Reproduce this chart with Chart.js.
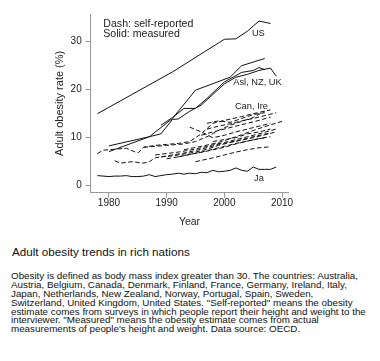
<!DOCTYPE html>
<html>
<head>
<meta charset="utf-8">
<script src="https://cdn.jsdelivr.net/npm/chart.js@4.4.1/dist/chart.umd.min.js"></script>
<style>
  html, body { margin:0; padding:0; background:#fff; }
  body { width:380px; height:361px; position:relative; overflow:hidden; font-family:"Liberation Sans", Arial, sans-serif; color:#111; }
  #wrap { position:absolute; left:0; top:0; width:380px; height:230px; }
  #title { position:absolute; left:11.5px; top:245.8px; font-size:10.7px; line-height:13px; white-space:nowrap; transform:scale(1.092,1); transform-origin:left top; }
  #desc { position:absolute; left:11.3px; top:271.9px; font-size:8.6px; line-height:8.9px; white-space:nowrap; transform:scale(1.141,1); transform-origin:left top; }
</style>
</head>
<body>
<div id="wrap"><canvas id="c" width="380" height="230"></canvas></div>
<div id="title">Adult obesity trends in rich nations</div>
<div id="desc">Obesity is defined as body mass index greater than 30. The countries: Australia,<br>Austria, Belgium, Canada, Denmark, Finland, France, Germany, Ireland, Italy,<br>Japan, Netherlands, New Zealand, Norway, Portugal, Spain, Sweden,<br>Switzerland, United Kingdom, United States. "Self-reported" means the obesity<br>estimate comes from surveys in which people report their height and weight to the<br>interviewer. "Measured" means the obesity estimate comes from actual<br>measurements of people's height and weight. Data source: OECD.</div>
<script>
// ---- tick labels ----
const xTicks = [1980, 1990, 2000, 2010];
const yTicks = [0, 10, 20, 30];

// ---- measured (solid) series ----
const usYears = [1978, 1991, 2000, 2002, 2004, 2006, 2008];
const usVals  = [15.0, 23.7, 30.5, 30.6, 32.2, 34.3, 33.8];

const msAYears = [1980, 1987, 1991, 1995, 2001, 2003, 2007];
const msAVals  = [8.3, 10.2, 14.0, 19.9, 22.6, 25.0, 26.5];

const ukYears = [1980, 1987, 1989, 1991, 1992, 1994, 1996, 1998, 2000, 2002, 2004, 2006, 2008, 2009];
const ukVals  = [7.1, 10.2, 10.8, 13.8, 13.9, 15.5, 16.8, 19.0, 21.2, 22.6, 23.2, 24.0, 24.5, 22.8];

const msCYears = [1989, 1991, 1993, 1995, 1997, 2000, 2003, 2005, 2006, 2007];
const msCVals  = [12.6, 14.2, 16.1, 16.1, 18.2, 21.6, 23.6, 24.0, 24.6, 24.2];

const jaYears = [1978,1979,1980,1981,1982,1983,1984,1985,1986,1987,1988,1989,1990,1991,1992,1993,1994,1995,1996,1997,1998,1999,2000,2001,2002,2003,2004,2005,2006,2007,2008,2009];
const jaVals  = [2.1,2.0,1.9,2.0,2.0,2.1,1.9,1.9,2.0,2.3,1.9,2.1,2.3,2.4,2.6,2.4,2.6,2.5,2.8,2.7,3.2,2.9,3.0,3.2,3.7,3.2,3.0,3.9,3.4,3.4,3.4,3.9];

// ---- self-reported (dashed) series ----
const sr1Years = [1978,1979,1981,1983,1985,1986,1988,1990,1992,1994,1996,1998,2000,2003,2005,2008];
const sr1Vals  = [6.7,7.4,7.6,7.8,6.8,8.0,8.4,8.6,8.8,9.2,10.8,13.0,13.6,14.4,15.0,15.8];
const sr2Years = [1981,1982,1984,1986,1987,1988,1990,1993,1996,1999,2002,2005,2008];
const sr2Vals  = [5.2,4.7,5.0,4.7,5.0,5.8,6.2,6.8,7.6,8.6,9.3,10.2,11.0];
const sr3Years = [1986,1988,1990,1993,1995,1997,1999,2001,2003,2005,2007];
const sr3Vals  = [8.0,8.2,8.4,8.7,9.2,10.2,11.5,12.6,13.4,14.2,15.5];
const sr4Years = [1994,1996,1998,2000,2002,2004,2006,2008];
const sr4Vals  = [12.2,11.2,10.0,10.5,11.2,11.8,12.4,13.0];
const sr5Years = [1989,1991,1993,1995,1997,1999,2001,2003,2005,2007,2009];
const sr5Vals  = [6.0,6.2,6.6,7.0,7.6,8.4,9.0,9.5,10.0,10.6,11.2];
const sr6Years = [1990,1992,1994,1996,1998,2000,2002,2004,2006,2008];
const sr6Vals  = [5.6,6.0,6.5,7.0,7.6,8.2,8.8,9.3,9.8,10.2];
const sr7Years = [1995,1998,2000,2002,2004,2006,2008];
const sr7Vals  = [5.0,5.8,6.4,7.0,7.5,7.9,8.1];
const sr8Years = [1993,1996,1999,2001,2003,2005,2007,2010];
const sr8Vals  = [7.5,8.2,9.0,9.8,10.6,11.5,12.3,13.4];
const sr9Years = [1997,1999,2001,2003,2005,2007,2009];
const sr9Vals  = [11.8,12.4,12.9,13.5,14.0,14.6,15.2];
const sr10Years = [1996,1998,2000,2002,2004,2006,2008];
const sr10Vals  = [10.5,11.2,11.8,12.4,13.0,13.6,14.3];
const sr11Years = [1988,1990,1992,1994,1996,1998,2000,2002,2004,2006,2009];
const sr11Vals  = [6.4,6.7,7.0,7.4,7.9,8.5,9.0,9.6,10.2,10.8,11.8];
const sr12Years = [1992,1994,1997,2000,2002,2004,2007];
const sr12Vals  = [6.0,6.5,7.2,8.0,8.7,9.3,10.0];
const sr13Years = [1998,2000,2002,2004,2006,2008];
const sr13Vals  = [9.2,9.6,10.0,10.8,11.2,11.8];
const sr14Years = [1997,1999,2001,2003,2005,2007];
const sr14Vals  = [13.0,13.5,13.2,14.0,14.8,15.2];

// ---- in-plot labels (data coordinates) ----
const annotTexts = ['US', 'Asl, NZ, UK', 'Can, Ire', 'Ja'];
const annotX = [2005.9, 2005.75, 2004.7, 2006.0];
const annotY = [31.1, 20.9, 16.0, 1.0];
const keyTexts = ['Dash: self-reported', 'Solid: measured'];

const pts = (xs, ys) => xs.map((x, i) => ({x: x, y: ys[i]}));
const solid = (xs, ys) => ({data: pts(xs, ys), borderColor: '#111', borderWidth: 1, pointRadius: 0, tension: 0, fill: false});
const dash = (xs, ys) => ({data: pts(xs, ys), borderColor: '#111', borderWidth: 1, borderDash: [4.5, 2.5], pointRadius: 0, tension: 0, fill: false});

const datasets = [
  solid(usYears, usVals), solid(msAYears, msAVals), solid(ukYears, ukVals), solid(msCYears, msCVals), solid(jaYears, jaVals),
  dash(sr1Years, sr1Vals), dash(sr2Years, sr2Vals), dash(sr3Years, sr3Vals), dash(sr4Years, sr4Vals),
  dash(sr5Years, sr5Vals), dash(sr6Years, sr6Vals), dash(sr7Years, sr7Vals), dash(sr8Years, sr8Vals),
  dash(sr9Years, sr9Vals), dash(sr10Years, sr10Vals), dash(sr11Years, sr11Vals), dash(sr12Years, sr12Vals),
  dash(sr13Years, sr13Vals), dash(sr14Years, sr14Vals)
];

const FONT = '"Liberation Sans", Arial, sans-serif';
const textPlugin = {
  id: 'texts',
  afterDatasetsDraw(chart) {
    const ctx = chart.ctx, xs = chart.scales.x, ys = chart.scales.y, ca = chart.chartArea;
    ctx.save();
    ctx.fillStyle = '#222';
    ctx.textBaseline = 'alphabetic';
    ctx.font = '9.3px ' + FONT;
    ctx.textAlign = 'center';
    annotTexts.forEach((t, i) => ctx.fillText(t, xs.getPixelForValue(annotX[i]), ys.getPixelForValue(annotY[i])));
    ctx.font = '10.6px ' + FONT;
    ctx.textAlign = 'left';
    keyTexts.forEach((t, i) => ctx.fillText(t, ca.left + 12.6, ca.top + 12.5 + i * 10));
    ctx.restore();
  }
};

new Chart(document.getElementById('c'), {
  type: 'line',
  data: { datasets: datasets },
  plugins: [textPlugin],
  options: {
    responsive: false,
    animation: false,
    devicePixelRatio: 1,
    layout: { padding: { top: 14, right: 91.7, left: 0, bottom: 0 } },
    plugins: { legend: { display: false }, tooltip: { enabled: false } },
    scales: {
      x: {
        type: 'linear', min: 1976.83, max: 2011.09,
        afterBuildTicks: s => { s.ticks = xTicks.map(v => ({value: v})); },
        afterFit: s => { s.height = 37.3; },
        ticks: { callback: v => String(v), color: '#222', padding: 0, font: { size: 10, family: FONT }, maxRotation: 0 },
        grid: { drawOnChartArea: false, drawTicks: true, tickLength: 5, color: '#999' },
        border: { display: true, color: '#999', width: 1 },
        title: { display: true, text: 'Year', color: '#222', font: { size: 10.5, family: FONT }, padding: { top: 0, bottom: 1.2 } }
      },
      y: {
        type: 'linear', min: -1.46, max: 35.77,
        afterBuildTicks: s => { s.ticks = yTicks.map(v => ({value: v})); },
        afterFit: s => { s.width = 90.7; },
        ticks: { callback: v => String(v), color: '#222', padding: 4, font: { size: 10, family: FONT } },
        grid: { drawOnChartArea: false, drawTicks: true, tickLength: 5, color: '#999' },
        border: { display: true, color: '#999', width: 1 },
        title: { display: true, text: 'Adult obesity rate (%)', color: '#222', font: { size: 11, family: FONT }, padding: { top: 53.4, bottom: 0 } }
      }
    }
  }
});
</script>
</body>
</html>
